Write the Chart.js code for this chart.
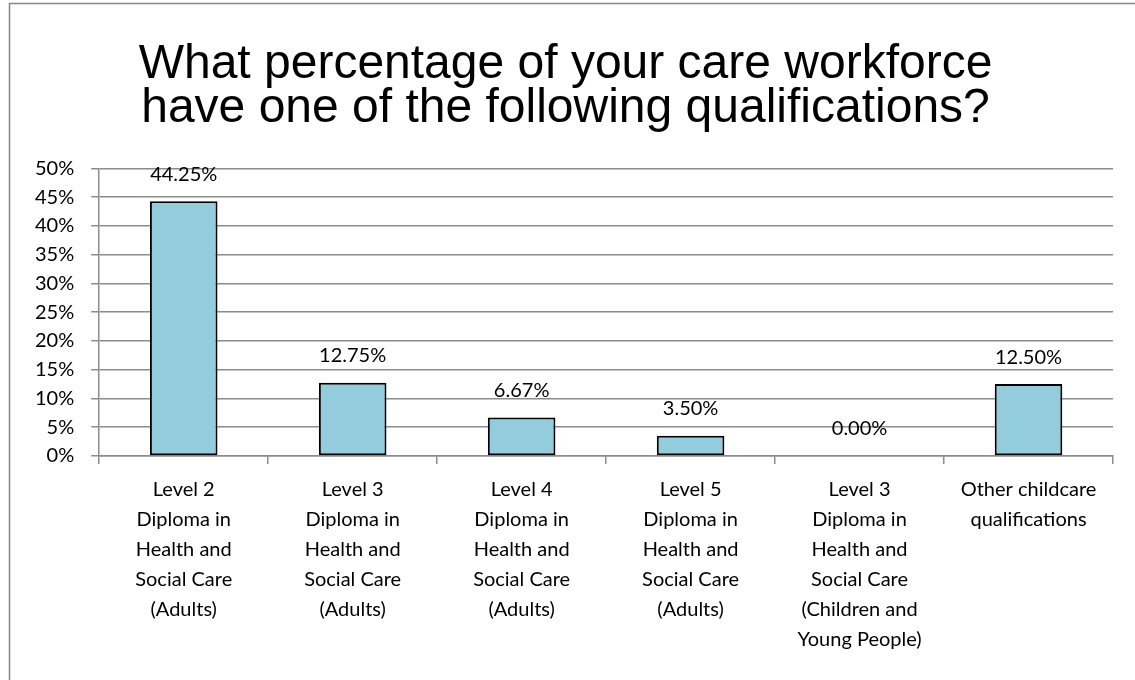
<!DOCTYPE html>
<html>
<head>
<meta charset="utf-8">
<script src="https://cdn.jsdelivr.net/npm/chart.js@4"></script>
<style>
    body { margin: 0; background: #ffffff; }
    #pai-grafico { position: relative; width: 1135px; height: 680px; }
</style>
</head>
<body>
<div id="pai-grafico">
    <canvas id="graficoQualificacoes" width="1135" height="680"></canvas>
</div>
<script>
const categorias = [
    ["Level 2", "Diploma in", "Health and", "Social Care", "(Adults)"],
    ["Level 3", "Diploma in", "Health and", "Social Care", "(Adults)"],
    ["Level 4", "Diploma in", "Health and", "Social Care", "(Adults)"],
    ["Level 5", "Diploma in", "Health and", "Social Care", "(Adults)"],
    ["Level 3", "Diploma in", "Health and", "Social Care", "(Children and", "Young People)"],
    ["Other childcare", "qualifications"]
];
const percentuais = [44.25, 12.75, 6.67, 3.50, 0.00, 12.50];
const rotulosDados = ["44.25%", "12.75%", "6.67%", "3.50%", "0.00%", "12.50%"];

const fonteEixo = "Lato, 'Open Sans', sans-serif";
const corGrade = '#8c8c8c';

// rótulos em cima das barras
const pluginRotulos = {
    id: 'rotulos',
    afterDatasetsDraw(chart) {
        const ctx = chart.ctx;
        const meta = chart.getDatasetMeta(0);
        ctx.save();
        ctx.fillStyle = '#000000';
        ctx.font = '20px ' + fonteEixo;
        ctx.textAlign = 'center';
        ctx.textBaseline = 'middle';
        meta.data.forEach(function (barra, i) {
            ctx.fillText(rotulosDados[i], barra.x, barra.y - 27);
        });
        ctx.restore();
    }
};

// moldura cinza do gráfico
const pluginMoldura = {
    id: 'moldura',
    beforeDraw(chart) {
        const ctx = chart.ctx;
        ctx.save();
        ctx.fillStyle = '#ffffff';
        ctx.fillRect(0, 0, chart.width, chart.height);
        ctx.strokeStyle = '#868686';
        ctx.lineWidth = 1.5;
        ctx.strokeRect(9.5, 3.5, chart.width - 8, chart.height + 10);
        ctx.restore();
    }
};

const ctx = document.getElementById('graficoQualificacoes').getContext('2d');

window.meuGrafico = new Chart(ctx, {
    type: 'bar',
    data: {
        labels: categorias,
        datasets: [{
            label: 'Percentage',
            data: percentuais,
            backgroundColor: '#93cddd',
            borderColor: '#000000',
            borderWidth: 2,
            borderSkipped: false,
            barPercentage: 0.8,
            categoryPercentage: 0.5
        }]
    },
    options: {
        responsive: false,
        animation: false,
        layout: {
            padding: { left: 18, right: 22, top: 0, bottom: 14 }
        },
        scales: {
            y: {
                min: 0,
                max: 50,
                ticks: {
                    stepSize: 5,
                    padding: 17,
                    color: '#000000',
                    font: { family: fonteEixo, size: 20 },
                    callback: function (valor) { return valor + '%'; }
                },
                grid: {
                    color: corGrade,
                    lineWidth: 1.5,
                    tickLength: 8
                },
                border: {
                    color: corGrade,
                    width: 1.5
                }
            },
            x: {
                ticks: {
                    color: '#000000',
                    font: { family: fonteEixo, size: 20, lineHeight: 1.5 },
                    maxRotation: 0,
                    autoSkip: false,
                    padding: 11
                },
                grid: {
                    offset: true,
                    drawOnChartArea: false,
                    color: corGrade,
                    lineWidth: 1.5,
                    tickLength: 8
                },
                border: {
                    color: corGrade,
                    width: 1.5
                }
            }
        },
        plugins: {
            legend: { display: false },
            tooltip: { enabled: false },
            title: {
                display: true,
                text: ['What percentage of your care workforce', 'have one of the following qualifications?'],
                color: '#000000',
                font: { family: "'Liberation Sans', Arial, sans-serif", size: 48, weight: 'normal', lineHeight: 0.93 },
                padding: { top: 42, bottom: 37 }
            }
        }
    },
    plugins: [pluginMoldura, pluginRotulos]
});
</script>
</body>
</html>
